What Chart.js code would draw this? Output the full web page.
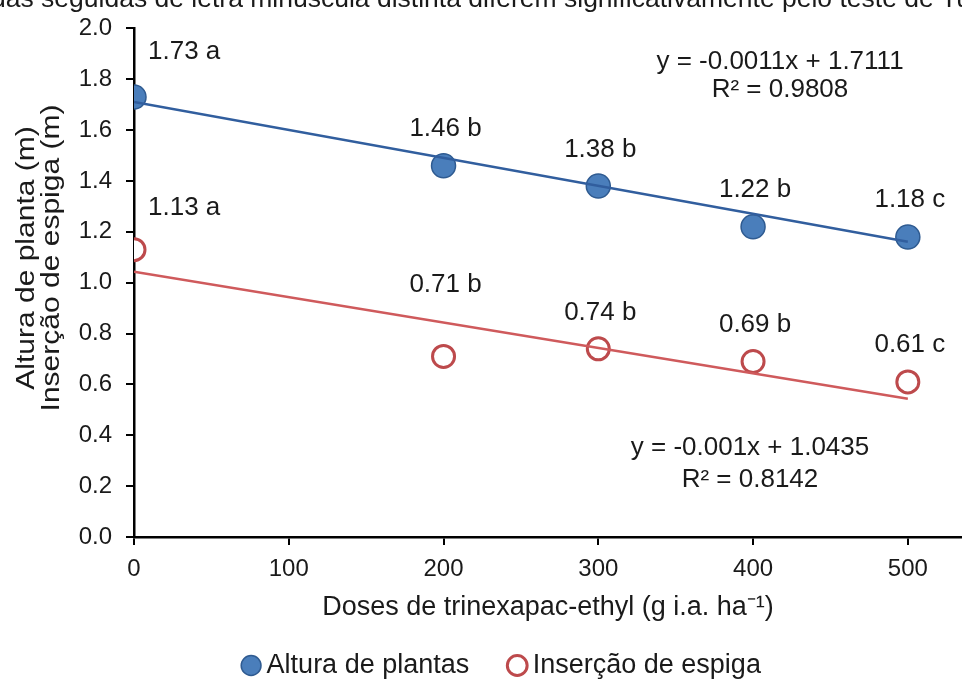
<!DOCTYPE html>
<html>
<head>
<meta charset="utf-8">
<script src="https://cdn.jsdelivr.net/npm/chart.js@4.4.0/dist/chart.umd.min.js"></script>
<style>
html, body { margin: 0; padding: 0; background: #fff; overflow: hidden; }
#caixa { width: 976px; height: 689px; position: relative; }
</style>
</head>
<body>
<div id="caixa"><canvas id="grafico"></canvas></div>
<script>
// dados
const doses = [0, 200, 300, 400, 500];
const alturaPlantas = [1.73, 1.46, 1.38, 1.22, 1.18];
const insercaoEspiga = [1.13, 0.71, 0.74, 0.69, 0.61];
const letrasAltura = ['a', 'b', 'b', 'b', 'c'];
const letrasInsercao = ['a', 'b', 'b', 'b', 'c'];
const tendenciaX = [0, 500];
const tendenciaAltura = [1.7111, 1.1611];
const tendenciaInsercao = [1.0435, 0.5435];
const xTicks = [0, 100, 200, 300, 400, 500];
const yTicks = [0, 0.2, 0.4, 0.6, 0.8, 1.0, 1.2, 1.4, 1.6, 1.8, 2.0];

// distancia (px) do rotulo acima do ponto
const dyAltura = [45, 37, 36, 37, 37];
const dyInsercao = [42, 72, 36, 37, 37];

const fonte = '"Liberation Sans", Arial, sans-serif';
const azul = '#4a7ebb';
const azulBorda = '#2f5b91';
const azulLinha = '#315e9e';
const vermelho = '#bd4a4c';
const vermelhoLinha = '#cf5a5c';

const pontos = (xs, ys) => xs.map((x, i) => ({ x: x, y: ys[i] }));

// rotulos, equacoes, titulo Y e texto cortado no topo
const textos = {
    id: 'textos',
    afterDatasetsDraw(chart) {
        const ctx = chart.ctx;
        ctx.save();
        ctx.fillStyle = '#1a1a1a';
        ctx.font = '26px ' + fonte;
        ctx.textBaseline = 'middle';
        const rotular = (idx, valores, letras, dys) => {
            const meta = chart.getDatasetMeta(idx);
            meta.data.forEach((p, i) => {
                const txt = valores[i].toFixed(2) + ' ' + letras[i];
                if (i === 0) {
                    ctx.textAlign = 'left';
                    ctx.fillText(txt, p.x + 14, p.y - dys[i]);
                } else {
                    ctx.textAlign = 'center';
                    ctx.fillText(txt, p.x + 2, p.y - dys[i]);
                }
            });
        };
        rotular(0, alturaPlantas, letrasAltura, dyAltura);
        rotular(1, insercaoEspiga, letrasInsercao, dyInsercao);

        ctx.textAlign = 'center';
        ctx.fillText('y = -0.0011x + 1.7111', 780, 62);
        ctx.fillText('R\u00b2 = 0.9808', 780, 90);
        ctx.fillText('y = -0.001x + 1.0435', 750, 448);
        ctx.fillText('R\u00b2 = 0.8142', 750, 480);

        // titulo do eixo Y (duas linhas, esticado no sentido do texto)
        ctx.save();
        ctx.translate(27, 258);
        ctx.rotate(-Math.PI / 2);
        ctx.scale(1.2, 1);
        ctx.font = '25px ' + fonte;
        ctx.fillText('Altura de planta (m)', 0, 0);
        ctx.fillText('Inser\u00e7\u00e3o de espiga (m)', 0, 25);
        ctx.restore();

        ctx.font = '26.5px ' + fonte;
        ctx.textAlign = 'left';
        ctx.textBaseline = 'alphabetic';
        ctx.fillText('das seguidas de letra min\u00fascula distinta diferem significativamente pelo teste de Tu', -9, 7);
        ctx.restore();
    },
    afterLayout(chart) {
        chart.legend.left += 17;
        chart.legend.right += 17;
    }
};

const ctx = document.getElementById('grafico').getContext('2d');

new Chart(ctx, {
    type: 'scatter',
    data: {
        datasets: [{
            label: 'Altura de plantas',
            data: pontos(doses, alturaPlantas),
            pointRadius: 12,
            pointBackgroundColor: azul,
            pointBorderColor: azulBorda,
            pointBorderWidth: 1.5,
            showLine: false
        }, {
            label: 'Inser\u00e7\u00e3o de espiga',
            data: pontos(doses, insercaoEspiga),
            pointRadius: 11,
            pointBackgroundColor: '#ffffff',
            pointBorderColor: vermelho,
            pointBorderWidth: 3,
            showLine: false
        }, {
            label: 'tendencia altura',
            data: pontos(tendenciaX, tendenciaAltura),
            showLine: true,
            borderColor: azulLinha,
            borderWidth: 2.5,
            pointRadius: 0,
            order: -1
        }, {
            label: 'tendencia insercao',
            data: pontos(tendenciaX, tendenciaInsercao),
            showLine: true,
            borderColor: vermelhoLinha,
            borderWidth: 2.5,
            pointRadius: 0,
            order: -1
        }]
    },
    options: {
        responsive: true,
        maintainAspectRatio: false,
        animation: false,
        layout: {
            padding: { top: 25, right: 0, bottom: 0, left: 0 }
        },
        plugins: {
            tooltip: { enabled: false },
            legend: {
                position: 'bottom',
                labels: {
                    filter: item => item.datasetIndex < 2,
                    usePointStyle: true,
                    pointStyle: 'circle',
                    boxWidth: 4,
                    boxHeight: 14,
                    padding: 46,
                    color: '#1a1a1a',
                    font: { family: fonte, size: 27 }
                }
            }
        },
        scales: {
            x: {
                type: 'linear',
                min: 0,
                max: 535,
                afterBuildTicks: scale => { scale.ticks = xTicks.map(v => ({ value: v })); },
                afterFit: scale => { scale.height = 69; },
                border: { color: '#000', width: 2.5 },
                grid: { drawOnChartArea: false, drawTicks: true, tickLength: 8, color: '#000', lineWidth: 2 },
                ticks: {
                    color: '#1a1a1a',
                    font: { family: fonte, size: 24 },
                    padding: 10,
                    maxRotation: 0
                },
                title: {
                    display: true,
                    text: 'Doses de trinexapac-ethyl (g i.a. ha\u207b\u00b9)',
                    color: '#1a1a1a',
                    font: { family: fonte, size: 27 },
                    padding: { top: 0, bottom: -18 }
                }
            },
            y: {
                min: 0,
                max: 2,
                afterBuildTicks: scale => { scale.ticks = yTicks.map(v => ({ value: v })); },
                afterFit: scale => { scale.width = 134; },
                border: { color: '#000', width: 2.5 },
                grid: { drawOnChartArea: false, drawTicks: true, tickLength: 8, color: '#000', lineWidth: 2 },
                ticks: {
                    color: '#1a1a1a',
                    font: { family: fonte, size: 24 },
                    padding: 14,
                    callback: v => v.toFixed(1)
                }
            }
        }
    },
    plugins: [textos]
});
</script>
</body>
</html>
